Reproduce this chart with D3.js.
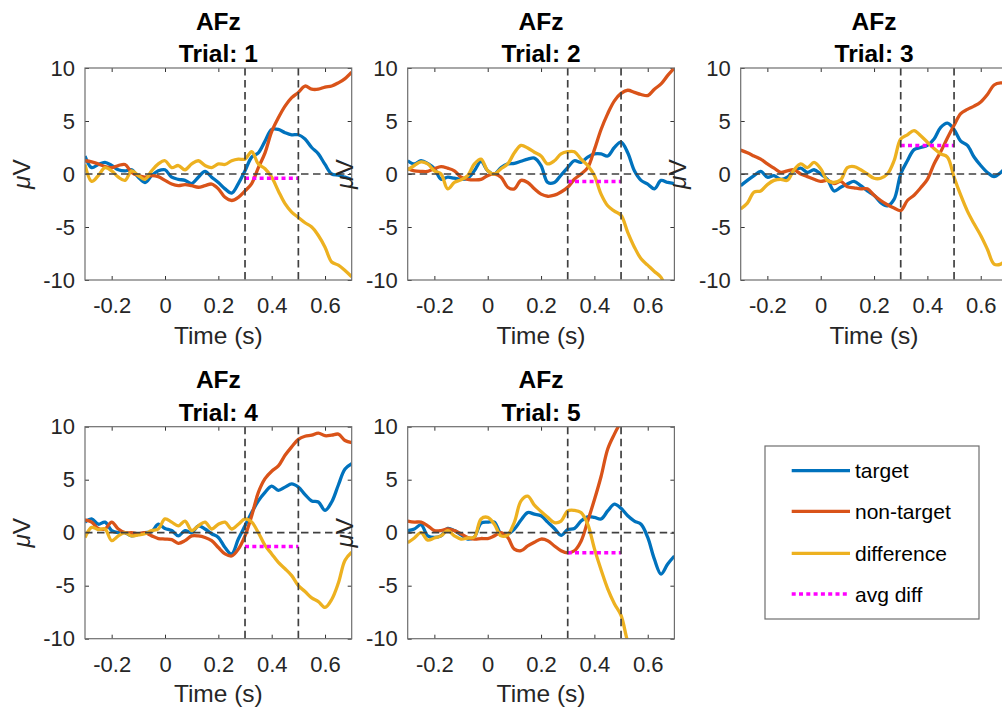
<!DOCTYPE html>
<html>
<head>
<meta charset="utf-8">
<script src="https://cdn.jsdelivr.net/npm/d3@7"></script>
<style>
  body { margin: 0; background: #fff; }
  svg { display: block; font-family: "Liberation Sans", Arial, sans-serif; }
</style>
</head>
<body>
<svg id="chart"></svg>
<script>
// ---- data ----
const channel = 'AFz';
const trials = [1, 2, 3, 4, 5];
const timeDomain = [-0.3, 0.7];
const voltDomain = [-10, 10];
const timeTicks = [-0.2, 0, 0.2, 0.4, 0.6];
const voltTicks = [-10, -5, 0, 5, 10];
const windowBounds = [0.3, 0.5];
// sample times, every 25 ms from -0.3 to 0.7 s
const times = d3.range(41).map(i => -0.3 + i * 0.025);

const target1 = [1.7, 0.6, 0.9, 1.1, 0.8, 0.4, 0.3, 0.4, -0.3, -0.8,
  -0.15, 0.3, 0.4, -0.3, -0.5, -0.6, -0.9, -0.3, 0.25, -0.3,
  -0.8, -1.4, -1.8, -0.9, 0.3, 1.6, 2.0, 3.1, 4.2, 4.2,
  3.9, 3.7, 3.7, 3.3, 2.5, 1.9, 0.9, 0, -0.1, -0.3, -0.5];
const nontarget1 = [1.25, 1.15, 0.95, 0.7, 0.6, 0.8, 0.9, 0.15, -0.15, -0.3,
  -0.15, -0.25, -0.6, -0.95, -1.1, -1.0, -1.1, -1.25, -1.1, -0.95,
  -1.4, -2.2, -2.5, -2.2, -1.6, -0.9, 0.6, 2.0, 4.0, 5.3,
  6.4, 7.2, 7.7, 8.3, 8.0, 8.0, 8.2, 8.3, 8.6, 9.0, 9.6];
const diff1 = [0.9, -0.7, -0.15, 0.6, 0.3, -0.3, -0.6, 0.3, -0.15, -0.5,
  0.3, 0.95, 1.25, 0.6, 0.8, 0.4, 0.95, 1.25, 0.8, 0.6,
  0.95, 0.9, 1.25, 1.4, 1.4, 2.1, 0.95, 0.5, -0.3, -1.6,
  -2.8, -3.6, -4.1, -4.6, -5.0, -5.8, -6.9, -8.3, -8.6, -9.1, -9.7];

const target2 = [1.25, 0.95, 1.25, 1.0, 0.5, -0.5, -0.3, -0.4, -0.5, -0.4,
  0.3, 1.2, 0.3, 0, 0.6, 0.95, 1.0, 1.2, 1.4, 1.5,
  0.8, -0.8, -0.8, -0.1, 0.6, 1.25, 1.1, 1.6, 1.9, 1.9,
  1.7, 2.5, 3.0, 2.0, 0.3, -0.6, -0.95, -1.4, -0.6, -0.8, -0.9];
const nontarget2 = [0.5, 0.3, 0.25, 0.25, 0.5, 0.7, 0.55, 0.3, -0.3, -0.5,
  -0.55, -0.5, -0.15, 0, -0.3, -1.25, -1.4, -0.6, -0.8, -1.4,
  -1.9, -2.1, -2.0, -1.7, -1.25, -0.5, 0, 0.6, 2.3, 4.2,
  5.7, 6.9, 7.6, 7.9, 7.7, 7.5, 7.4, 8.0, 8.5, 9.3, 10.0];
const diff2 = [0.4, 0.8, 1.15, 0.95, 0.3, 0, -1.4, -0.8, -0.55, -0.15,
  0.95, 1.4, 0.3, 0, 0.5, 0.95, 2.0, 2.7, 2.45, 2.05,
  1.7, 0.95, 1.25, 1.9, 2.1, 2.1, 1.4, 0.8, -0.15, -1.9,
  -3.0, -3.5, -3.9, -5.5, -6.9, -8.0, -8.6, -9.2, -9.75, -11.3, -12.5];

const target3 = [-1.1, -0.6, -0.15, 0.25, -0.3, -0.15, -0.5, -0.3, 0.3, 0.55,
  0.15, 0.4, 0, -0.5, -1.6, -1.25, -0.95, -0.7, -1.1, -1.6,
  -2.0, -2.7, -3.0, -2.4, 0.0, 1.25, 2.3, 2.5, 2.7, 3.3,
  4.4, 4.8, 4.2, 3.1, 2.7, 1.6, 0.8, 0.15, -0.25, 0.15, 0.8];
const nontarget3 = [2.25, 2.0, 1.7, 1.4, 0.95, 0.55, 0.15, 0.3, 0.4, 0,
  -0.25, -0.5, -0.7, -0.6, -0.9, -0.7, -1.2, -1.3, -1.4, -1.4,
  -2.0, -2.5, -2.9, -3.2, -3.45, -2.5, -2.0, -1.3, -0.5, 0.95,
  2.1, 3.4, 4.6, 5.7, 6.1, 6.4, 6.8, 7.5, 8.4, 8.6, 8.5];
const diff3 = [-3.3, -2.75, -1.7, -1.6, -1.0, -0.6, -0.5, -0.6, 0.4, 0.95,
  0.6, 1.1, 0.5, -0.6, -0.8, -0.55, 0.6, 0.7, 0.4, 0,
  -0.4, -0.4, 0, 1.25, 3.3, 3.7, 4.1, 3.6, 3.0, 2.4,
  1.9, 1.6, -0.3, -2.0, -3.5, -4.7, -5.8, -7.1, -8.5, -8.5, -7.9];

const target4 = [1.0, 1.3, 0.8, 1.0, 0.2, 0, 0, -0.3, -0.15, 0,
  0.1, 0.8, 0.4, 0.2, -0.3, 0.2, 0, 0.65, 0.35, -0.1,
  -0.45, -1.4, -2.0, -0.6, 0.65, 1.9, 3.0, 3.8, 4.4, 4.0,
  4.3, 4.6, 4.3, 3.6, 3.0, 2.9, 2.1, 2.9, 4.5, 6.0, 6.5];
const nontarget4 = [1.2, 1.0, 0.4, 0.35, 1.0, 0.35, 0, 0, -0.1, 0,
  -0.3, -0.55, -0.6, -0.65, -1.0, -0.75, -0.3, -0.3, -0.45, -0.75,
  -1.4, -2.0, -2.2, -1.55, -0.3, 1.6, 3.8, 5.1, 5.8, 6.3,
  7.3, 8.1, 8.8, 9.1, 9.2, 9.4, 9.15, 9.2, 9.3, 8.7, 8.5];
const diff4 = [-0.45, 0.5, 0.3, 0.35, -0.75, -0.3, 0, -0.3, -0.2, -0.1,
  0.2, 0.35, 1.3, 1.0, 0.65, 1.1, 0.2, 0.65, 1.0, 0.35,
  0.8, 1.0, 0.35, 0.8, 1.3, 1.0, 0, -1.2, -2.0, -2.8,
  -3.4, -4.05, -5.0, -5.55, -6.15, -6.5, -7.05, -6.3, -4.75, -2.6, -1.85];

const target5 = [0.2, 0.35, 0.75, -0.3, -0.45, -0.3, 0.4, 0.2, -0.2, -0.6,
  -0.4, 0.9, 1.0, 1.0, -0.1, -0.1, 0.35, 1.2, 1.9, 1.75,
  1.6, 1.0, 0.4, -0.25, 0.3, 0.4, 1.1, 1.5, 1.45, 1.3,
  2.05, 2.7, 2.3, 1.6, 1.1, 0.8, -0.45, -2.5, -3.9, -2.95, -2.2];
const nontarget5 = [1.1, 1.0, 1.0, 0.65, 0.2, 0.2, 0.35, 0.2, -0.1, -0.45,
  -0.6, -0.55, -0.55, -0.3, 0, -0.45, -1.55, -1.7, -1.25, -0.9,
  -0.6, -0.75, -1.25, -1.7, -1.9, -1.7, -0.8, 1.1, 3.1, 5.3,
  7.9, 9.3, 10.5, 11.8, 13.0, 14.0, 14.8, 15.4, 15.9, 16.3, 16.6];
const diff5 = [-0.95, -0.5, 0, -0.7, -0.5, -0.3, 0.2, -0.3, -0.6, -0.5,
  -0.4, 1.3, 1.45, 0.8, -0.3, -0.2, 1.0, 3.0, 3.45, 2.6,
  2.0, 1.45, 0.95, 1.1, 2.05, 2.1, 1.9, 0.8, -1.5, -3.5,
  -5.3, -6.7, -7.8, -10.3, -11.9, -13.2, -15.2, -17.9, -19.8, -19.2, -18.8];

const targets = [target1, target2, target3, target4, target5];
const nontargets = [nontarget1, nontarget2, nontarget3, nontarget4, nontarget5];
const diffs = [diff1, diff2, diff3, diff4, diff5];
const avgDiff = [-0.4, -0.7, 2.7, -1.3, -1.9];

const seriesNames = ['target', 'non-target', 'difference', 'avg diff'];
const seriesColors = ['#0072BD', '#D95319', '#EDB120', '#FF00FF'];

// ---- layout ----
const dim = { width: 1002, height: 713 };
const panelDim = {
  lefts: [85, 407.7, 740.7],
  tops: [68, 426.7],
  width: 266.7,
  height: 212,
  tickLen: 4,
  tickFont: 22,
  labelFont: 24.5
};

const svg = d3.select('#chart')
  .attr('width', dim.width)
  .attr('height', dim.height);

trials.forEach((trial, i) => {
  const cell = {
    x: panelDim.lefts[i % 3],
    y: panelDim.tops[Math.floor(i / 3)],
    width: panelDim.width,
    height: panelDim.height
  };
  drawPanel(svg, cell, i);
});

drawLegend(svg, { x: 765, y: 446, width: 214, height: 173 });

// one subplot: axes box, three curves, window markers and avg diff
function drawPanel(svg, cell, i) {
  const x = d3.scaleLinear().domain(timeDomain).range([0, cell.width]);
  const y = d3.scaleLinear().domain(voltDomain).range([cell.height, 0]);

  const g = svg.append('g')
    .attr('transform', `translate(${cell.x},${cell.y})`);

  g.append('clipPath')
    .attr('id', `clip-${i}`)
    .append('rect')
    .attr('width', cell.width)
    .attr('height', cell.height);

  const fmt = d => String(d);
  const tl = panelDim.tickLen;

  g.append('g')
    .attr('transform', `translate(0,${cell.height})`)
    .call(d3.axisBottom(x).tickValues(timeTicks).tickFormat(fmt)
      .tickSizeInner(-tl).tickSizeOuter(0).tickPadding(17.5));
  g.append('g')
    .call(d3.axisLeft(y).tickValues(voltTicks).tickFormat(fmt)
      .tickSizeInner(-tl).tickSizeOuter(0).tickPadding(10));
  g.append('g')
    .call(d3.axisTop(x).tickValues(timeTicks).tickFormat('')
      .tickSizeInner(-tl).tickSizeOuter(0));
  g.append('g')
    .attr('transform', `translate(${cell.width},0)`)
    .call(d3.axisRight(y).tickValues(voltTicks).tickFormat('')
      .tickSizeInner(-tl).tickSizeOuter(0));

  g.selectAll('.domain').remove();
  g.selectAll('.tick line').attr('stroke', '#333');
  g.selectAll('.tick text')
    .attr('fill', '#262626')
    .style('font-size', `${panelDim.tickFont}px`)
    .style('font-family', '"Liberation Sans", Arial, sans-serif');

  const plot = g.append('g').attr('clip-path', `url(#clip-${i})`);

  const line = d3.line()
    .x((d, k) => x(times[k]))
    .y(d => y(d))
    .curve(d3.curveCatmullRom.alpha(0.5));

  [targets[i], nontargets[i], diffs[i]].forEach((series, s) => {
    plot.append('path')
      .datum(series)
      .attr('d', line)
      .attr('fill', 'none')
      .attr('stroke', seriesColors[s])
      .attr('stroke-width', 3.3)
      .attr('stroke-linejoin', 'round');
  });

  plot.append('line')
    .attr('x1', x(windowBounds[0]))
    .attr('x2', x(windowBounds[1]))
    .attr('y1', y(avgDiff[i]))
    .attr('y2', y(avgDiff[i]))
    .attr('stroke', seriesColors[3])
    .attr('stroke-width', 3.5)
    .attr('stroke-dasharray', '4,3.3');

  // dashed reference lines
  const dashed = sel => sel
    .attr('stroke', '#404040')
    .attr('stroke-width', 1.7)
    .attr('stroke-dasharray', '7.5,4.5');

  plot.append('line')
    .attr('x1', 0).attr('x2', cell.width)
    .attr('y1', y(0)).attr('y2', y(0))
    .call(dashed);

  windowBounds.forEach(t => {
    plot.append('line')
      .attr('x1', x(t)).attr('x2', x(t))
      .attr('y1', 0).attr('y2', cell.height)
      .call(dashed);
  });

  // axes box
  g.append('rect')
    .attr('width', cell.width)
    .attr('height', cell.height)
    .attr('fill', 'none')
    .attr('stroke', '#6e6e6e')
    .attr('stroke-width', 1.2);

  // titles and labels
  const title = g.append('text')
    .attr('text-anchor', 'middle')
    .attr('font-weight', 'bold')
    .attr('font-size', panelDim.labelFont)
    .attr('fill', '#000');
  title.append('tspan')
    .attr('x', cell.width / 2).attr('y', -38.5)
    .text(channel);
  title.append('tspan')
    .attr('x', cell.width / 2).attr('y', -6)
    .text(`Trial: ${trials[i]}`);

  g.append('text')
    .attr('x', cell.width / 2)
    .attr('y', cell.height + 63.5)
    .attr('text-anchor', 'middle')
    .attr('font-size', panelDim.labelFont)
    .attr('fill', '#262626')
    .text('Time (s)');

  const yl = g.append('text')
    .attr('transform', `translate(-55,${cell.height / 2}) rotate(-90)`)
    .attr('text-anchor', 'middle')
    .attr('font-size', panelDim.labelFont)
    .attr('fill', '#262626');
  yl.append('tspan').attr('font-style', 'italic').text('\u03bc');
  yl.append('tspan').text('V');
}

// legend in the empty sixth cell
function drawLegend(svg, box) {
  const g = svg.append('g')
    .attr('transform', `translate(${box.x},${box.y})`);

  g.append('rect')
    .attr('width', box.width)
    .attr('height', box.height)
    .attr('fill', '#fff')
    .attr('stroke', '#6e6e6e')
    .attr('stroke-width', 1.2);

  const rowY = [24.7, 65.3, 107.3, 148];

  seriesNames.forEach((name, i) => {
    const item = g.append('g').attr('transform', `translate(0,${rowY[i]})`);
    item.append('line')
      .attr('x1', 26.7).attr('x2', 85)
      .attr('stroke', seriesColors[i])
      .attr('stroke-width', i === 3 ? 3.5 : 3.3)
      .attr('stroke-dasharray', i === 3 ? '4,3.3' : null);
    item.append('text')
      .attr('x', 90)
      .attr('dy', '0.36em')
      .attr('font-size', 21)
      .attr('fill', '#000')
      .text(name);
  });
}
</script>
</body>
</html>
